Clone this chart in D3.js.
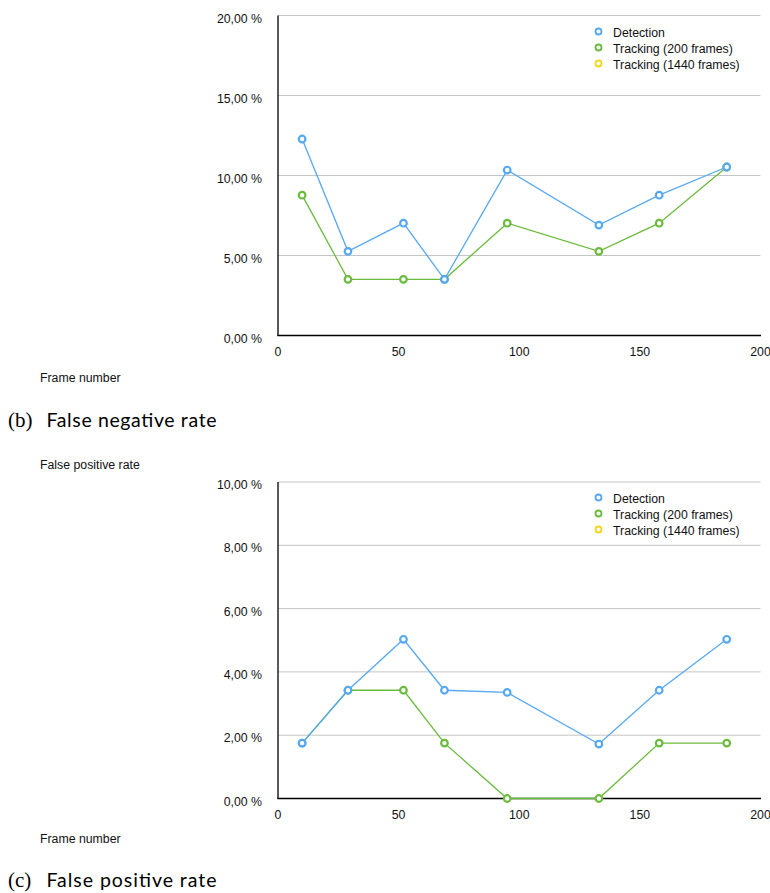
<!DOCTYPE html>
<html><head><meta charset="utf-8">
<script src="https://cdn.jsdelivr.net/npm/d3@7"></script>
<style>body{margin:0;background:#fff}svg{display:block}</style>
</head><body>
<script>
const frames = [10, 29, 52, 69, 95, 133, 158, 186];
const fnDetection = [12.28, 5.26, 7.02, 3.51, 10.34, 6.9, 8.77, 10.53];
const fnTracking200 = [8.77, 3.51, 3.51, 3.51, 7.02, 5.26, 7.02, 10.53];
const fpDetection = [1.75, 3.42, 5.03, 3.42, 3.35, 1.72, 3.42, 5.03];
const fpTracking200 = [1.75, 3.42, 3.42, 1.75, 0, 0, 1.75, 1.75];
const legendLabels = ["Detection", "Tracking (200 frames)", "Tracking (1440 frames)"];
const legendColors = ["#56a8f2", "#6abb3c", "#f2d51c"];
const xTicks = [0, 50, 100, 150, 200];
const fnTicks = [0, 5, 10, 15, 20];
const fpTicks = [0, 2, 4, 6, 8, 10];

const svg = d3.select("body").append("svg").attr("width", 770).attr("height", 893);
const font = "'Liberation Sans', Arial, sans-serif";
const fs = 12.3;
const fmt = v => d3.format(".2f")(v).replace(".", ",") + " %";

function chart(top, bottom, yMax, yTicks, series, legendY) {
  const x = d3.scaleLinear().domain([0, 200]).range([278, 760.5]);
  const y = d3.scaleLinear().domain([0, yMax]).range([bottom, top]);
  const g = svg.append("g");
  g.selectAll("line.grid").data(yTicks.filter(t => t > 0)).join("line")
    .attr("x1", 278).attr("x2", 760.5).attr("y1", d => y(d)).attr("y2", d => y(d))
    .attr("stroke", "#c4c4c4").attr("stroke-width", 1);
  g.selectAll("text.yl").data(yTicks).join("text")
    .attr("x", 262).attr("y", d => y(d) + 7).attr("text-anchor", "end")
    .attr("font-family", font).attr("font-size", fs).attr("fill", "#111")
    .text(fmt);
  g.selectAll("text.xl").data(xTicks).join("text")
    .attr("x", d => x(d)).attr("y", bottom + 20).attr("text-anchor", "middle")
    .attr("font-family", font).attr("font-size", fs).attr("fill", "#111")
    .text(d => d);
  g.append("line").attr("x1", 278).attr("x2", 278).attr("y1", top).attr("y2", bottom + 0.5)
    .attr("stroke", "#000").attr("stroke-width", 1.3);
  g.append("line").attr("x1", 277.5).attr("x2", 761).attr("y1", bottom).attr("y2", bottom)
    .attr("stroke", "#000").attr("stroke-width", 1.3);
  const line = d3.line().x((d, i) => x(frames[i])).y(d => y(d));
  series.forEach(s => {
    g.append("path").attr("d", line(s.values)).attr("fill", "none")
      .attr("stroke", s.color).attr("stroke-width", 1.3);
  });
  series.forEach(s => {
    g.selectAll(null).data(s.values).join("circle")
      .attr("cx", (d, i) => x(frames[i])).attr("cy", d => y(d)).attr("r", 3.3)
      .attr("fill", "#fff").attr("stroke", s.color).attr("stroke-width", 2.2);
  });
  legendLabels.forEach((lab, i) => {
    const ly = legendY + i * 16;
    g.append("circle").attr("cx", 598.5).attr("cy", ly).attr("r", 3)
      .attr("fill", "#fff").attr("stroke", legendColors[i]).attr("stroke-width", 1.8);
    g.append("text").attr("x", 613).attr("y", ly + 5).attr("font-family", font)
      .attr("font-size", fs).attr("fill", "#111").text(lab);
  });
}

chart(15.5, 335.5, 20, fnTicks, [
  {values: fnTracking200, color: legendColors[1]},
  {values: fnDetection, color: legendColors[0]}
], 31.5);

chart(482, 798.5, 10, fpTicks, [
  {values: fpTracking200, color: legendColors[1]},
  {values: fpDetection, color: legendColors[0]}
], 497.5);

function small(txt, x, y) {
  svg.append("text").attr("x", x).attr("y", y).attr("font-family", font)
    .attr("font-size", fs).attr("fill", "#111").text(txt);
}
small("Frame number", 40, 382);
small("False positive rate", 40, 469);
small("Frame number", 40, 843);

function caption(letter, txt, y) {
  svg.append("text").attr("x", 8).attr("y", y).attr("font-size", 21).attr("fill", "#000")
    .attr("font-family", "'Liberation Serif', 'Times New Roman', serif").text("(" + letter + ")");
  svg.append("text").attr("x", 46.5).attr("y", y).attr("font-size", 19.5).attr("fill", "#000")
    .attr("font-family", "Lato, 'Open Sans', sans-serif")
    .attr("textLength", 170).attr("lengthAdjust", "spacing").text(txt);
}
caption("b", "False negative rate", 427);
caption("c", "False positive rate", 887);
</script>
</body></html>
